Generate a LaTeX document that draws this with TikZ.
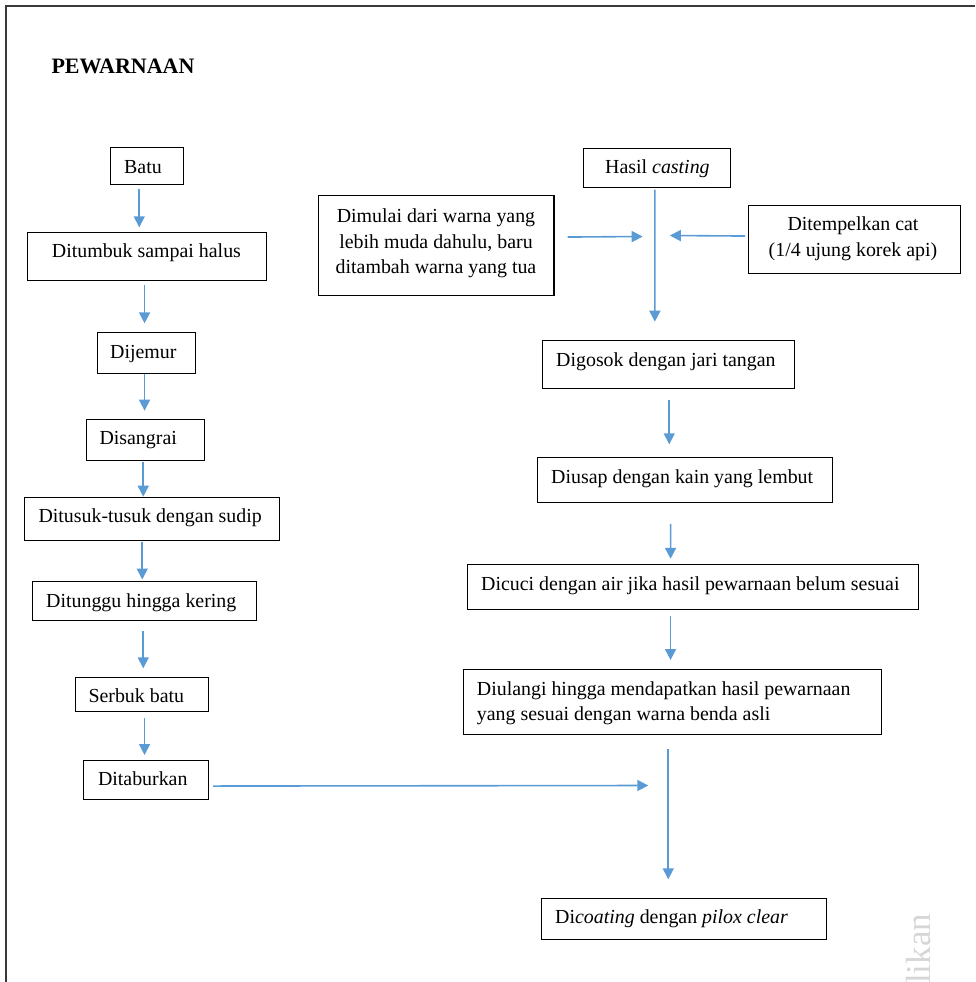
\documentclass[tikz,border=0pt]{standalone}
\usepackage{fontspec}
\setmainfont{Liberation Serif}
\usetikzlibrary{arrows.meta,calc}
\definecolor{arrblue}{HTML}{5B9BD5}
\definecolor{framegray}{HTML}{3A3A3A}
\definecolor{wmgray}{HTML}{D6D6D6}
\newcommand{\flowbox}[5]{\node[flowrect, minimum width={#4pt-#2pt}, minimum height={#5pt-#3pt}] (#1) at (#2,#3) {};}
\tikzset{
  flowrect/.style={draw=black, line width=1.1pt, inner sep=0pt, anchor=north west},
  txt/.style={inner sep=0pt, anchor=base west, font=\fontsize{19.9}{25.5}\selectfont},
  txtml/.style={inner sep=0pt, font=\fontsize{19.9}{25.5}\selectfont},
  arr/.style={draw=arrblue, line width=1.6pt, -{Triangle[length=11pt,width=11pt]}},
  frameline/.style={draw=framegray, line width=2pt}
}
\begin{document}
\begin{tikzpicture}[x=1pt,y=-1pt]
\useasboundingbox (0,0) rectangle (975,982);
\clip (0,0) rectangle (975,982);
% frame
\coordinate (fbl) at (5.7,982);
\coordinate (ftl) at (5.7,5.7);
\coordinate (ftr) at (975,5.7);
\draw[frameline] (fbl) -- (ftl) -- (ftr);
% heading
\node[inner sep=0pt, anchor=base west, font=\fontsize{22}{26}\selectfont\bfseries] (title) at (51.3,74) {PEWARNAAN};
% left column boxes
\flowbox{batu}{110}{147.3}{182.7}{184.3}
\flowbox{ditumbuk}{27.3}{231.7}{265.7}{280.3}
\flowbox{dijemur}{96.7}{332.3}{194.7}{372.7}
\flowbox{disangrai}{86}{419.3}{204}{460}
\flowbox{ditusuk}{24.3}{496.7}{278.7}{540}
\flowbox{ditunggu}{32.3}{581}{255.7}{620}
\flowbox{serbuk}{75}{677.3}{208.3}{711.3}
\flowbox{ditaburkan}{83}{760}{207.5}{799}
% left column texts
\node[txt] (tbatu) at (124,173.3) {Batu};
\node[txt] (tditumbuk) at (51.7,257.3) {Ditumbuk sampai halus};
\node[txt] (tdijemur) at (110,358.3) {Dijemur};
\node[txt] (tdisangrai) at (99.3,444.3) {Disangrai};
\node[txt] (tditusuk) at (38.3,522.3) {Ditusuk-tusuk dengan sudip};
\node[txt] (tditunggu) at (46,607.3) {Ditunggu hingga kering};
\node[txt] (tserbuk) at (88.3,702.7) {Serbuk batu};
\node[txt] (tditaburkan) at (97.8,785) {Ditaburkan};
% right column boxes
\flowbox{hasil}{583}{147.5}{730}{186.5}
\flowbox{dimulai}{318}{195}{553.4}{295}
\flowbox{ditempel}{748}{204.5}{960}{272.5}
\flowbox{digosok}{542.3}{340}{794}{387.7}
\flowbox{diusap}{537}{457.3}{831.7}{502.3}
\flowbox{dicuci}{467.3}{564.3}{917.7}{609.3}
\flowbox{diulangi}{463.3}{669.3}{880.7}{734.3}
\flowbox{dicoating}{541}{897.7}{825.7}{939.3}
% right column texts
\node[txt] (thasil) at (605,173.3) {Hasil \textit{casting}};
\node[txtml, align=center] (tdimulai) at (436,243.7) {Dimulai dari warna yang\\lebih muda dahulu, baru\\ditambah warna yang tua};
\node[txtml, align=center] (tditempel) at (853,238.9) {Ditempelkan cat\\(1/4 ujung korek api)};
\node[txt] (tdigosok) at (556,366) {Digosok dengan jari tangan};
\node[txt] (tdiusap) at (551,483.3) {Diusap dengan kain yang lembut};
\node[txt] (tdicuci) at (481,590) {Dicuci dengan air jika hasil pewarnaan belum sesuai};
\node[txtml, align=left, anchor=west] (tdiulangi) at (476.7,703.2) {Diulangi hingga mendapatkan hasil pewarnaan\\yang sesuai dengan warna benda asli};
\node[txt] (tdicoating) at (555,923.3) {Di\textit{coating} dengan \textit{pilox clear}};
% watermark
\node[inner sep=0pt, rotate=90, anchor=base west, text=wmgray, font=\fontsize{35}{40}\selectfont] (wm) at (930,984) {likan};
% left arrows
\draw[arr] ([shift={(-7.65,4)}]batu.south) -- ([shift={(-7.8,-4.4)}]ditumbuk.north);
\draw[arr] ([shift={(-2.5,4)}]ditumbuk.south) -- ([shift={(-1.7,-9)}]dijemur.north);
\draw[arr] ([shift={(-1.7,0.5)}]dijemur.south) -- ([shift={(-1,-8.6)}]disangrai.north);
\draw[arr] ([shift={(-2.3,0.5)}]disangrai.south) -- ([shift={(-2.3,0)}]disangrai.south |- ditusuk.north);
\draw[arr] ([shift={(-9.8,0.5)}]ditusuk.south) -- ([shift={(-9.8,-1.5)}]ditusuk.south |- ditunggu.north);
\draw[arr] ([shift={(-1.3,10)}]ditunggu.south) -- ([shift={(1.05,-9)}]serbuk.north);
\draw[arr] ([shift={(2.35,6)}]serbuk.south) -- ([shift={(-1.25,-5)}]ditaburkan.north);
% joining arrow from left column
\coordinate (joinL) at (648.3,785.5);
\draw[arr] ([shift={(4.5,6)}]ditaburkan.east) -- (joinL);
% right arrows
\draw[arr] ([shift={(-2.2,2)}]hasil.south) -- ([shift={(-13.85,-18.3)}]digosok.north);
\coordinate (mixL) at (642.7,236.5);
\coordinate (mixR) at (669.8,235.5);
\draw[arr] ([shift={(13,-8.5)}]dimulai.east) -- (mixL);
\draw[arr] ([shift={(-3,-3)}]ditempel.west) -- (mixR);
\draw[arr] ([shift={(0.55,11.3)}]digosok.south) -- ([shift={(-15.65,-13)}]diusap.north);
\draw[arr] ([shift={(-14.35,20.4)}]diusap.south) -- ([shift={(-22.5,-5.5)}]dicuci.north);
\draw[arr] ([shift={(-22.5,5.7)}]dicuci.south) -- ([shift={(-2,-9.3)}]diulangi.north);
\draw[arr] ([shift={(-4.3,14)}]diulangi.south) -- ([shift={(-15.65,-18.4)}]dicoating.north);
\end{tikzpicture}
\end{document}
